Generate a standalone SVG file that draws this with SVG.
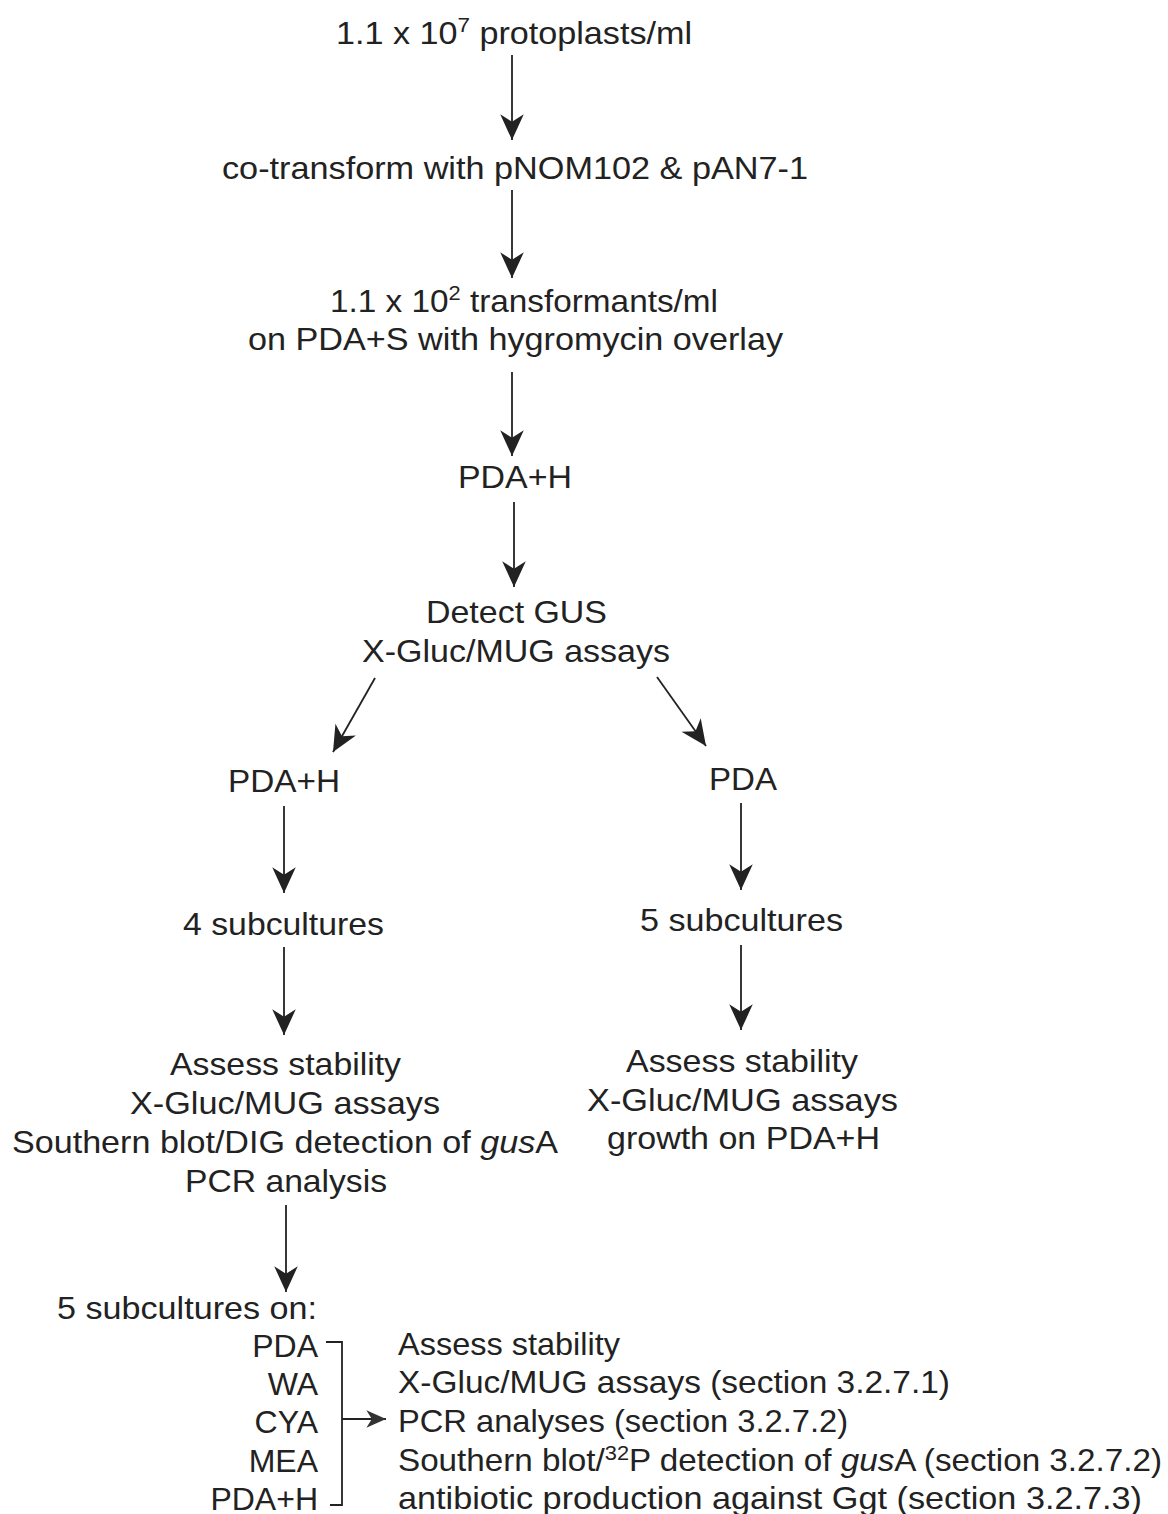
<svg xmlns="http://www.w3.org/2000/svg" width="1168" height="1514" viewBox="0 0 1168 1514">
<style>
text{font-family:"Liberation Sans",Arial,sans-serif;font-size:32px;fill:#222}
.c{stroke:#222;stroke-width:1.8;fill:none}
.sup{font-size:21px}
</style>
<defs>
<marker id="ah" markerUnits="userSpaceOnUse" markerWidth="30" markerHeight="30" viewBox="-26 -12 28 24" refX="0" refY="0" orient="auto">
<path d="M0,0 L-24,-11 L-17,0 L-24,11 Z" fill="#222"/>
</marker>
<marker id="ahs" markerUnits="userSpaceOnUse" markerWidth="24" markerHeight="24" viewBox="-20 -10 22 20" refX="0" refY="0" orient="auto">
<path d="M0,0 L-18,-8 L-13,0 L-18,8 Z" fill="#333"/>
</marker>
</defs>
<rect width="1168" height="1514" fill="#fff"/>
<g id="n1"><text x="336" y="44" textLength="356" lengthAdjust="spacingAndGlyphs">1.1 x 10<tspan class="sup" dy="-12">7</tspan><tspan dy="12"> protoplasts/ml</tspan></text></g>
<g id="n2"><text x="222" y="179" textLength="586" lengthAdjust="spacingAndGlyphs">co-transform with pNOM102 &amp; pAN7-1</text></g>
<g id="n3"><text x="330" y="312" textLength="388" lengthAdjust="spacingAndGlyphs">1.1 x 10<tspan class="sup" dy="-12">2</tspan><tspan dy="12"> transformants/ml</tspan></text>
<text x="248" y="350" textLength="535" lengthAdjust="spacingAndGlyphs">on PDA+S with hygromycin overlay</text></g>
<g id="n4"><text x="458" y="488" textLength="114" lengthAdjust="spacingAndGlyphs">PDA+H</text></g>
<g id="n5"><text x="426" y="623" textLength="181" lengthAdjust="spacingAndGlyphs">Detect GUS</text>
<text x="362" y="662" textLength="308" lengthAdjust="spacingAndGlyphs">X-Gluc/MUG assays</text></g>
<g id="n6"><text x="228" y="792" textLength="112" lengthAdjust="spacingAndGlyphs">PDA+H</text></g>
<g id="n7"><text x="709" y="790" textLength="68" lengthAdjust="spacingAndGlyphs">PDA</text></g>
<g id="n8"><text x="183" y="935" textLength="201" lengthAdjust="spacingAndGlyphs">4 subcultures</text></g>
<g id="n9"><text x="640" y="931" textLength="203" lengthAdjust="spacingAndGlyphs">5 subcultures</text></g>
<g id="n10"><text x="170" y="1075" textLength="231" lengthAdjust="spacingAndGlyphs">Assess stability</text>
<text x="130" y="1114" textLength="310" lengthAdjust="spacingAndGlyphs">X-Gluc/MUG assays</text>
<text x="12" y="1153" textLength="546" lengthAdjust="spacingAndGlyphs">Southern blot/DIG detection of <tspan font-style="italic">gus</tspan>A</text>
<text x="185" y="1192" textLength="202" lengthAdjust="spacingAndGlyphs">PCR analysis</text></g>
<g id="n11"><text x="626" y="1072" textLength="232" lengthAdjust="spacingAndGlyphs">Assess stability</text>
<text x="587" y="1111" textLength="311" lengthAdjust="spacingAndGlyphs">X-Gluc/MUG assays</text>
<text x="607" y="1149" textLength="273" lengthAdjust="spacingAndGlyphs">growth on PDA+H</text></g>
<g id="n12"><text x="57" y="1319" textLength="260" lengthAdjust="spacingAndGlyphs">5 subcultures on:</text>
<text x="318" y="1357" text-anchor="end">PDA</text>
<text x="318" y="1395" text-anchor="end">WA</text>
<text x="318" y="1433" text-anchor="end">CYA</text>
<text x="318" y="1472" text-anchor="end">MEA</text>
<text x="318" y="1510" text-anchor="end">PDA+H</text></g>
<g id="n13"><text x="398" y="1355" textLength="222" lengthAdjust="spacingAndGlyphs">Assess stability</text>
<text x="398" y="1393" textLength="552" lengthAdjust="spacingAndGlyphs">X-Gluc/MUG assays (section 3.2.7.1)</text>
<text x="398" y="1432" textLength="450" lengthAdjust="spacingAndGlyphs">PCR analyses (section 3.2.7.2)</text>
<text x="398" y="1471" textLength="764" lengthAdjust="spacingAndGlyphs">Southern blot/<tspan class="sup" dy="-11">32</tspan><tspan dy="11">P detection of </tspan><tspan font-style="italic">gus</tspan>A (section 3.2.7.2)</text>
<text x="398" y="1509" textLength="744" lengthAdjust="spacingAndGlyphs">antibiotic production against Ggt (section 3.2.7.3)</text></g>
<g id="connectors">
<line class="c" x1="512" y1="55" x2="512" y2="140" marker-end="url(#ah)"/>
<line class="c" x1="512" y1="190" x2="512" y2="278" marker-end="url(#ah)"/>
<line class="c" x1="512" y1="372" x2="512" y2="456" marker-end="url(#ah)"/>
<line class="c" x1="514" y1="502" x2="514" y2="587" marker-end="url(#ah)"/>
<line class="c" x1="375" y1="678" x2="333" y2="752" marker-end="url(#ah)"/>
<line class="c" x1="657" y1="677" x2="706" y2="746" marker-end="url(#ah)"/>
<line class="c" x1="284" y1="806" x2="284" y2="893" marker-end="url(#ah)"/>
<line class="c" x1="741" y1="803" x2="741" y2="890" marker-end="url(#ah)"/>
<line class="c" x1="284" y1="947" x2="284" y2="1035" marker-end="url(#ah)"/>
<line class="c" x1="741" y1="945" x2="741" y2="1030" marker-end="url(#ah)"/>
<line class="c" x1="286" y1="1205" x2="286" y2="1292" marker-end="url(#ah)"/>
<path class="c" d="M326,1342 H342 V1505 H330"/>
<line class="c" x1="342" y1="1419" x2="386" y2="1419" marker-end="url(#ahs)"/>
</g>
</svg>
